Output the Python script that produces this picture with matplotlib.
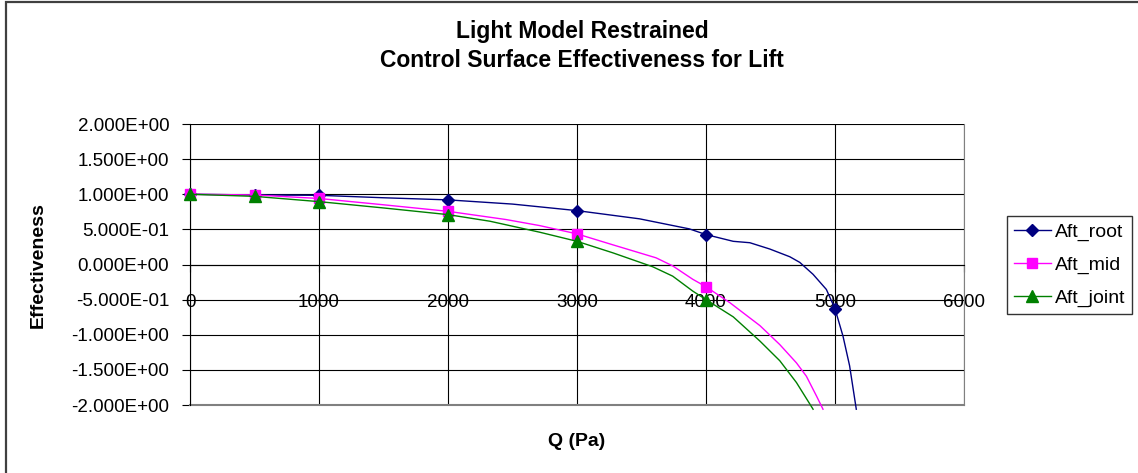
""" Effectiveness of the aft control surfaces versus dynamic pressure. """

import matplotlib
matplotlib.use("Agg")
import matplotlib.pyplot as plt
from matplotlib.patches import Rectangle
from matplotlib.ticker import FormatStrFormatter, MultipleLocator
import numpy as np

# values
q_root = [0, 500, 1000, 1500, 2000, 2500, 3000, 3485, 3871, 4000, 4211, 4340,
          4495, 4650, 4727, 4830, 4933, 5000, 5062, 5113, 5165]
e_root = [1.0, 0.99, 0.985, 0.95, 0.92, 0.86, 0.767, 0.65, 0.507, 0.426, 0.33, 0.31,
          0.22, 0.11, 0.03, -0.14, -0.355, -0.63, -1.02, -1.44, -2.06]

q_mid = [0, 500, 1000, 1500, 2000, 2450, 2710, 3000, 3278, 3613, 3742, 3897,
         4000, 4186, 4418, 4572, 4701, 4778, 4856, 4907]
e_mid = [1.0, 0.99, 0.94, 0.85, 0.757, 0.64, 0.554, 0.436, 0.28, 0.095, -0.02, -0.21,
         -0.317, -0.545, -0.87, -1.14, -1.40, -1.59, -1.87, -2.06]

q_joint = [0, 500, 1000, 1500, 2000, 2325, 2710, 3000, 3278, 3588, 3742, 3897,
           4000, 4211, 4418, 4572, 4701, 4830]
e_joint = [1.0, 0.97, 0.895, 0.805, 0.71, 0.616, 0.46, 0.33, 0.166, -0.033, -0.166, -0.378,
           -0.5, -0.745, -1.09, -1.37, -1.68, -2.06]

# Q values that carry a marker
marked_root = [0, 500, 1000, 2000, 3000, 4000, 5000]
marked_other = [0, 500, 1000, 2000, 3000, 4000]

title = "Light Model Restrained\nControl Surface Effectiveness for Lift"


def main():
    plt.rcParams['font.family'] = ['Liberation Sans', 'DejaVu Sans']

    fig = plt.figure(figsize=(11.38, 4.73), dpi=100)
    ax = fig.add_axes([190 / 1138, 1 - 405 / 473, 774 / 1138, 281 / 473])

    series = [
        (q_root, e_root, marked_root, "Aft_root", "#000080", "D", 6),
        (q_mid, e_mid, marked_other, "Aft_mid", "#FF00FF", "s", 6.5),
        (q_joint, e_joint, marked_other, "Aft_joint", "#008000", "^", 8),
    ]
    for q, e, marked, name, col, mk, ms in series:
        idx = list(np.where(np.isin(q, marked))[0])
        ax.plot(q, e, color=col, lw=1.0, marker=mk, ms=ms, markevery=idx,
                markeredgecolor=col, markerfacecolor=col, label=name,
                clip_on=False, zorder=3)

    ax.set_xlim(0, 6000)
    ax.set_ylim(-2, 2)
    ax.xaxis.set_major_locator(MultipleLocator(1000))
    ax.yaxis.set_major_locator(MultipleLocator(0.5))
    ax.yaxis.set_major_formatter(FormatStrFormatter('%.3E'))
    ax.grid(True, color='black', lw=0.8)
    ax.set_axisbelow(True)

    ax.spines['bottom'].set_position(('data', 0))
    ax.spines['bottom'].set_color('black')
    ax.spines['left'].set_color('black')
    ax.spines['right'].set_color('#808080')
    ax.spines['top'].set_visible(False)
    # grey bottom edge of the plot area
    ax.plot([0, 1], [0, 0], transform=ax.transAxes, color='#808080', lw=1.5,
            clip_on=False)

    ax.tick_params(axis='x', direction='out', length=5, width=0.8, pad=16,
                   labelsize=13.5)
    ax.tick_params(axis='y', direction='out', length=6, width=0.8, pad=9,
                   labelsize=13.5)

    fig.text(582 / 1138, 1 - 46 / 473, title, ha='center', va='center',
             fontsize=16.5, fontweight='bold', linespacing=1.3)
    fig.text(38 / 1138, 1 - 265 / 473, "Effectiveness", rotation=90,
             ha='center', va='center', fontsize=14, fontweight='bold')
    fig.text(577 / 1138, 1 - 441 / 473, "Q (Pa)", ha='center', va='center',
             fontsize=14, fontweight='bold')

    leg = ax.legend(loc='center left', bbox_to_anchor=(1007 / 1138, 1 - 265 / 473),
                    bbox_transform=fig.transFigure, frameon=True, fancybox=False,
                    edgecolor='black', fontsize=14, handlelength=1.9,
                    handletextpad=0.2, borderpad=0.35, labelspacing=0.8,
                    borderaxespad=0)
    leg.get_frame().set_linewidth(1.0)

    # outer chart border (only top and left edges fall inside the picture)
    fig.patches.append(Rectangle((6 / 1138, -0.05), 1.2, 1 - 2 / 473 + 0.05,
                                 transform=fig.transFigure, fill=False,
                                 edgecolor='#404040', lw=1.6))

    fig.savefig("out.png", dpi=100)


if __name__ == "__main__":
    main()
